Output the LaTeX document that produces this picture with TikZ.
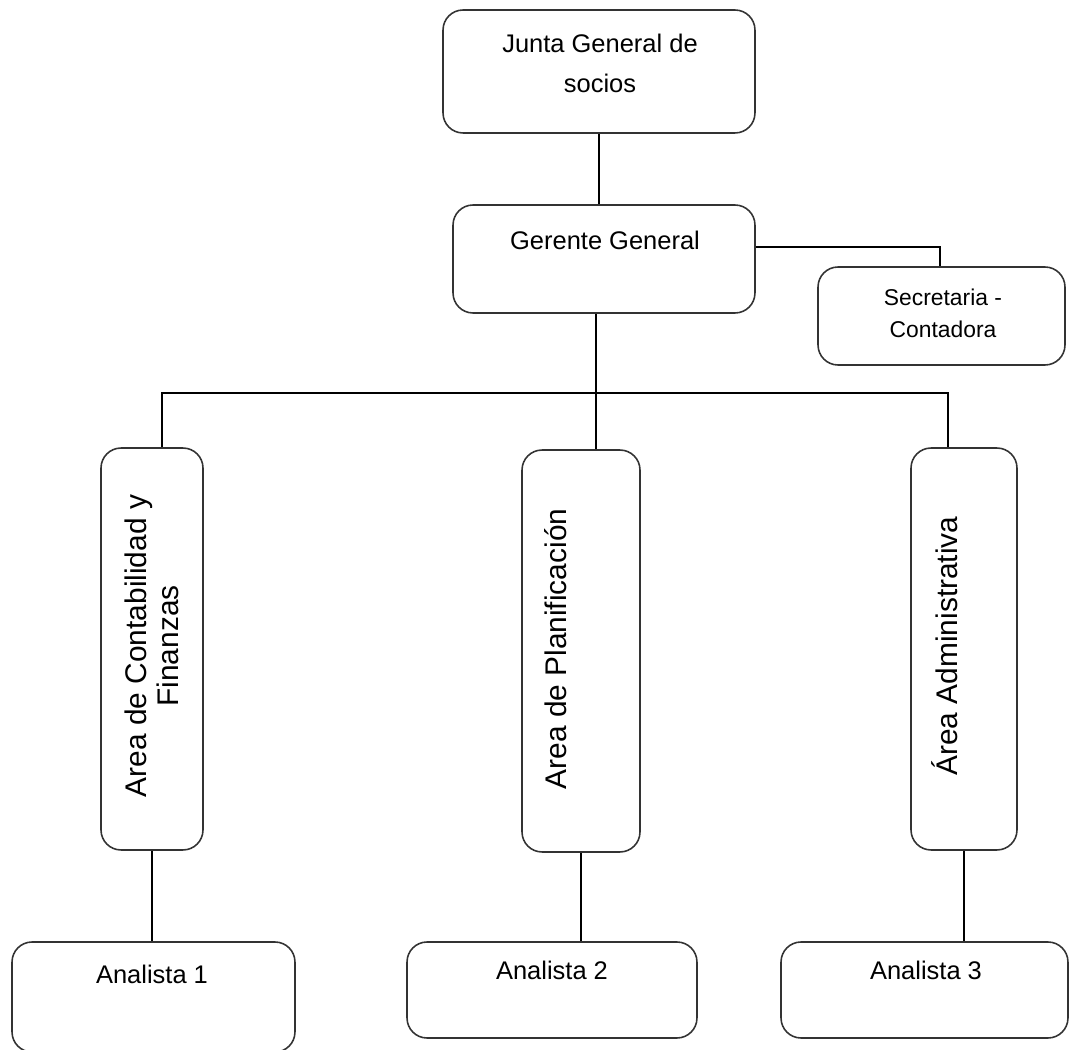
\documentclass[tikz,border=0pt]{standalone}
\usepackage{fontspec}
\setmainfont{Liberation Sans}

\begin{document}
\begin{tikzpicture}[x=0.02cm,y=-0.02cm,
                    box/.style={draw=black!80,line width=0.9pt,rounded corners=0.4cm,inner sep=0pt},
                    lbl/.style={font=\fontsize{14.5pt}{22.8pt}\selectfont,align=center,inner sep=0pt},
                    small lbl/.style={font=\fontsize{13pt}{18.2pt}\selectfont,align=center,inner sep=0pt},
                    vert lbl/.style={font=\fontsize{17pt}{18pt}\selectfont,align=center,rotate=90,inner sep=0pt},
                    link/.style={draw=black,line width=0.7pt}]

  \useasboundingbox (0,0) rectangle (1069,1050);

  % boxes
  \node[box,minimum width=6.24cm,minimum height=2.46cm] (junta) at (599,71.5) {};
  \node[box,minimum width=6.04cm,minimum height=2.16cm] (gerente) at (604,259) {};
  \node[box,minimum width=4.94cm,minimum height=1.96cm] (secre) at (941.5,316) {};
  \node[box,minimum width=2.04cm,minimum height=8.04cm] (contab) at (152,649) {};
  \node[box,minimum width=2.36cm,minimum height=8.04cm] (planif) at (581,651) {};
  \node[box,minimum width=2.12cm,minimum height=8.04cm] (admin) at (964,649) {};
  \node[box,minimum width=5.66cm,minimum height=2.2cm] (ana1) at (153.5,997) {};
  \node[box,minimum width=5.8cm,minimum height=1.92cm] (ana2) at (552,990) {};
  \node[box,minimum width=5.74cm,minimum height=1.92cm] (ana3) at (924.5,990) {};

  % texts
  \node[lbl] (junta-t) at (600,63) {Junta General de\\socios};
  \node[lbl] (gerente-t) at (605,240) {Gerente General};
  \node[small lbl] (secre-t) at (943,313) {Secretaria -\\Contadora};
  \node[vert lbl] (contab-t) at (152,646) {Area de Contabilidad y\\Finanzas};
  \node[vert lbl] (planif-t) at (556,649) {Area de Planificación};
  \node[vert lbl] (admin-t) at (945,646) {Área Administrativa};
  \node[lbl] (ana1-t) at (152,974) {Analista 1};
  \node[lbl] (ana2-t) at (552,970) {Analista 2};
  \node[lbl] (ana3-t) at (926,970) {Analista 3};

  % connectors
  \coordinate (bus) at (596,393);
  \coordinate (busL) at (162,393);
  \coordinate (busR) at (948,393);
  \coordinate (secturn) at (940,247);

  \path[link] (junta.south) -- (junta.south |- gerente.north);
  \path[link] (bus |- gerente.south) -- (bus |- planif.north);
  \path[link] (busL |- contab.north) -- (busL) -- (busR) -- (busR |- admin.north);
  \path[link] (gerente.east |- secturn) -- (secturn) -- (secturn |- secre.north);
  \path[link] (contab.south) -- (contab.south |- ana1.north);
  \path[link] (planif.south) -- (planif.south |- ana2.north);
  \path[link] (admin.south) -- (admin.south |- ana3.north);
\end{tikzpicture}
\end{document}
